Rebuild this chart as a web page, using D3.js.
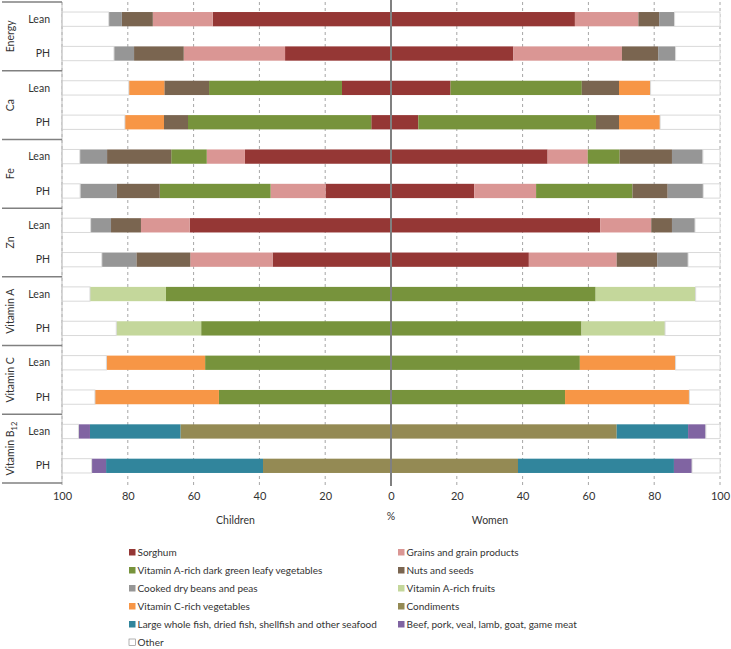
<!DOCTYPE html>
<html>
<head>
<meta charset="utf-8">
<script src="https://cdn.jsdelivr.net/npm/d3@7"></script>
<style>
  html, body { margin: 0; padding: 0; background: #fff; }
  svg { display: block; font-family: "Lato", "Liberation Sans", sans-serif; }
</style>
</head>
<body>
<svg id="chart" width="731" height="649"></svg>
<script>
// ---------------- DATA ----------------
const nutrients = ["Energy", "Ca", "Fe", "Zn", "Vitamin A", "Vitamin C", "Vitamin B12"];
const groups = ["Lean", "PH"];
const seriesNames = [
  "Sorghum", "Grains and grain products", "Vitamin A-rich dark green leafy vegetables",
  "Nuts and seeds", "Cooked dry beans and peas", "Vitamin A-rich fruits",
  "Vitamin C-rich vegetables", "Condiments",
  "Large whole fish, dried fish, shellfish and other seafood",
  "Beef, pork, veal, lamb, goat, game meat", "Other"
];
const seriesColors = ["#953735", "#DA9694", "#77933C", "#7A6550", "#969696", "#C4D79B",
  "#F79646", "#948A54", "#31859C", "#8064A2", "#FFFFFF"];
const tickLabels = [-100, -80, -60, -40, -20, 0, 20, 40, 60, 80, 100];

// rows: Energy Lean, Energy PH, Ca Lean, Ca PH, Fe Lean, Fe PH, Zn Lean, Zn PH,
//       VitA Lean, VitA PH, VitC Lean, VitC PH, B12 Lean, B12 PH
// Children (%)
const childSorghum   = [54.2, 32.2, 14.9, 6.0, 44.4, 19.9, 61.2, 36.0, 0, 0, 0, 0, 0, 0];
const childGrains    = [18.2, 30.8, 0, 0, 11.6, 16.7, 14.8, 25.0, 0, 0, 0, 0, 0, 0];
const childLeafy     = [0, 0, 40.4, 55.7, 10.8, 33.7, 0, 0, 68.4, 57.7, 56.5, 52.3, 0, 0];
const childNuts      = [9.4, 15.1, 13.6, 7.3, 19.5, 13.0, 9.1, 16.4, 0, 0, 0, 0, 0, 0];
const childBeans     = [4.0, 6.1, 0, 0, 8.3, 11.2, 6.2, 10.5, 0, 0, 0, 0, 0, 0];
const childFruits    = [0, 0, 0, 0, 0, 0, 0, 0, 23.1, 25.8, 0, 0, 0, 0];
const childVitC      = [0, 0, 10.8, 11.9, 0, 0, 0, 0, 0, 0, 30.0, 37.7, 0, 0];
const childCondiments= [0, 0, 0, 0, 0, 0, 0, 0, 0, 0, 0, 0, 64.0, 38.9];
const childFish      = [0, 0, 0, 0, 0, 0, 0, 0, 0, 0, 0, 0, 27.5, 47.7];
const childMeat      = [0, 0, 0, 0, 0, 0, 0, 0, 0, 0, 0, 0, 3.5, 4.4];
const childOther     = [14.2, 15.8, 20.3, 19.1, 5.4, 5.5, 8.7, 12.1, 8.5, 16.5, 13.5, 10.0, 5.0, 9.0];
// Women (%)
const womenSorghum   = [55.9, 37.2, 18.1, 8.3, 47.6, 25.3, 63.6, 41.9, 0, 0, 0, 0, 0, 0];
const womenGrains    = [19.3, 33.0, 0, 0, 12.2, 18.8, 15.5, 26.7, 0, 0, 0, 0, 0, 0];
const womenLeafy     = [0, 0, 39.9, 54.0, 9.7, 29.3, 0, 0, 62.2, 57.9, 57.4, 52.9, 0, 0];
const womenNuts      = [6.3, 11.0, 11.3, 7.0, 15.9, 10.7, 6.3, 12.3, 0, 0, 0, 0, 0, 0];
const womenBeans     = [4.7, 5.3, 0, 0, 9.4, 10.8, 7.0, 9.4, 0, 0, 0, 0, 0, 0];
const womenFruits    = [0, 0, 0, 0, 0, 0, 0, 0, 30.4, 25.4, 0, 0, 0, 0];
const womenVitC      = [0, 0, 9.6, 12.5, 0, 0, 0, 0, 0, 0, 29.1, 37.8, 0, 0];
const womenCondiments= [0, 0, 0, 0, 0, 0, 0, 0, 0, 0, 0, 0, 68.6, 38.6];
const womenFish      = [0, 0, 0, 0, 0, 0, 0, 0, 0, 0, 0, 0, 21.7, 47.4];
const womenMeat      = [0, 0, 0, 0, 0, 0, 0, 0, 0, 0, 0, 0, 5.4, 5.5];
const womenOther     = [13.8, 13.5, 21.1, 18.2, 5.2, 5.1, 7.6, 9.7, 7.4, 16.7, 13.5, 9.3, 4.3, 8.5];

const childSeries = [childSorghum, childGrains, childLeafy, childNuts, childBeans, childFruits,
  childVitC, childCondiments, childFish, childMeat, childOther];
const womenSeries = [womenSorghum, womenGrains, womenLeafy, womenNuts, womenBeans, womenFruits,
  womenVitC, womenCondiments, womenFish, womenMeat, womenOther];

// ---------------- LAYOUT ----------------
const svg = d3.select("#chart");
const plotL = 62, plotR = 720, plotT = 2, plotB = 483;
const textCol = "#333";

const rowKeys = [];
nutrients.forEach(n => groups.forEach(g => rowKeys.push(n + "|" + g)));

const x = d3.scaleLinear().domain([-100, 100]).range([plotL, plotR]);
const y = d3.scaleBand().domain(rowKeys).range([plotT, plotB]).paddingInner(0.584).paddingOuter(0.292);

function buildTable(seriesArrs) {
  return rowKeys.map((k, i) => {
    const o = { key: k };
    seriesNames.forEach((s, j) => o[s] = seriesArrs[j][i]);
    return o;
  });
}
const stack = d3.stack().keys(seriesNames);
const childStack = stack(buildTable(childSeries));
const womenStack = stack(buildTable(womenSeries));

// gridlines
const gridG = svg.append("g");
tickLabels.filter(t => t !== 0).forEach(t => {
  gridG.append("line")
    .attr("x1", x(t)).attr("x2", x(t))
    .attr("y1", plotT).attr("y2", plotB + 4)
    .attr("stroke", "#a6a6a6").attr("stroke-width", 1)
    .attr("stroke-dasharray", "3,3");
});

// bars
function drawStack(st, sign) {
  const g = svg.append("g");
  st.forEach((layer, j) => {
    g.selectAll(null).data(layer.filter(d => d[1] - d[0] > 0)).enter().append("rect")
      .attr("x", d => sign < 0 ? x(-d[1]) : x(d[0]))
      .attr("width", d => Math.abs(x(d[1]) - x(d[0])))
      .attr("y", d => y(d.data.key))
      .attr("height", y.bandwidth())
      .attr("fill", seriesColors[j])
      .attr("stroke", seriesNames[j] === "Other" ? "#d9d9d9" : "none")
      .attr("stroke-width", seriesNames[j] === "Other" ? 1 : 0);
  });
}
drawStack(childStack, -1);
drawStack(womenStack, 1);

// centre line
svg.append("line")
  .attr("x1", x(0)).attr("x2", x(0))
  .attr("y1", 0).attr("y2", plotB + 3)
  .attr("stroke", "#808080").attr("stroke-width", 2);

// bottom axis
const axis = d3.axisBottom(x).tickValues(tickLabels).tickFormat(d => Math.abs(d)).tickSize(0).tickPadding(0);
const axG = svg.append("g").attr("transform", `translate(0,${plotB + 9})`).call(axis);
axG.select(".domain").remove();
axG.selectAll("text").attr("font-size", 11).attr("fill", textCol).attr("dy", "0.71em")
  .attr("font-family", "Lato, 'Liberation Sans', sans-serif");

svg.append("text").attr("x", x(0)).attr("y", 520).attr("text-anchor", "middle")
  .attr("font-size", 10.5).attr("fill", textCol).text("%");
svg.append("text").attr("x", 235.5).attr("y", 524).attr("text-anchor", "middle")
  .attr("font-size", 10.5).attr("fill", textCol).text("Children");
svg.append("text").attr("x", 490).attr("y", 524).attr("text-anchor", "middle")
  .attr("font-size", 10.5).attr("fill", textCol).text("Women");

// category axis (multi-level)
const catG = svg.append("g");
catG.append("line").attr("x1", plotL).attr("x2", plotL).attr("y1", plotT).attr("y2", plotB)
  .attr("stroke", "#bfbfbf").attr("stroke-width", 1);
rowKeys.forEach(k => {
  catG.append("text")
    .attr("x", 50).attr("y", y(k) + y.bandwidth() / 2)
    .attr("dy", "0.35em").attr("text-anchor", "end")
    .attr("font-size", 10.5).attr("fill", textCol)
    .text(k.split("|")[1]);
});
const groupEdges = nutrients.map((n, i) => {
  const top = i === 0 ? plotT : (y(nutrients[i - 1] + "|PH") + y(n + "|Lean") + y.bandwidth()) / 2;
  const bot = i === nutrients.length - 1 ? plotB : (y(n + "|PH") + y.bandwidth() + y(nutrients[i + 1] + "|Lean")) / 2;
  return { n, top, bot };
});
[plotT, ...groupEdges.map(d => d.bot)].forEach(yy => {
  catG.append("line").attr("x1", 2).attr("x2", plotL).attr("y1", yy).attr("y2", yy)
    .attr("stroke", "#808080").attr("stroke-width", 1.5);
});
groupEdges.forEach(d => {
  const t = catG.append("text")
    .attr("transform", `translate(14,${(d.top + d.bot) / 2}) rotate(-90)`)
    .attr("text-anchor", "middle")
    .attr("font-size", 10.5).attr("fill", textCol);
  if (d.n === "Vitamin B12") {
    t.append("tspan").text("Vitamin B");
    t.append("tspan").attr("font-size", 7.5).attr("dy", 3).text("12");
  } else {
    t.text(d.n);
  }
});

// legend
const legG = svg.append("g");
seriesNames.forEach((s, i) => {
  const col = i % 2, row = Math.floor(i / 2);
  const lx = col === 0 ? 129 : 398;
  const ly = 552.5 + row * 18;
  legG.append("rect").attr("x", lx).attr("y", ly - 3.5).attr("width", 6.5).attr("height", 6.5)
    .attr("fill", seriesColors[i])
    .attr("stroke", s === "Other" ? "#7f7f7f" : "none").attr("stroke-width", 0.6);
  legG.append("text").attr("x", lx + 8.5).attr("y", ly).attr("dy", "0.35em")
    .attr("font-size", 10).attr("fill", textCol).text(s);
});
</script>
</body>
</html>
